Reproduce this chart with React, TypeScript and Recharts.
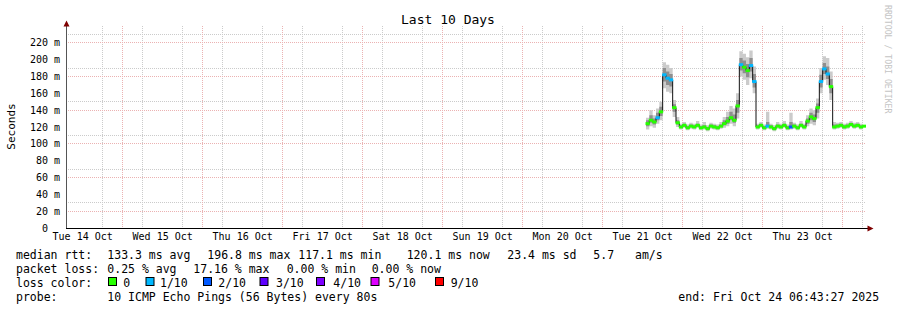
import React from 'react';
import { ComposedChart, Area, Line, XAxis, YAxis, CartesianGrid } from 'recharts';

// hours counted from Tue 14 Oct 00:00
const hours = [
  181, 182, 183, 184, 185, 186, 187, 188, 189, 190,
  191, 192, 193, 194, 195, 196, 197, 198, 199, 200,
  201, 202, 203, 204, 205, 206, 207, 208, 209, 210,
  211, 212, 213, 214, 215, 216, 217, 218, 219, 220,
  221, 222, 223, 224, 225, 226, 227, 228, 229, 230,
  231, 232, 233, 234, 235, 236, 237, 238, 239, 240,
  241, 242, 243, 244, 245, 246,
];

// median rtt in ms
const median = [
  124, 128, 126, 131, 138, 182, 178, 176, 143, 125,
  120, 122, 119, 121, 120, 122, 119, 120, 118, 121,
  120, 119, 121, 124, 127, 131, 128, 145, 194, 191,
  187, 193, 174, 120, 122, 119, 121, 120, 118, 121,
  120, 122, 119, 120, 121, 119, 122, 120, 127, 132,
  130, 143, 174, 189, 183, 168, 120, 121, 122, 120,
  121, 123, 121, 122, 120, 121,
];

// lost pings out of 10
const loss = [
  0, 0, 0, 1, 0, 1, 1, 1, 0, 0,
  0, 0, 0, 0, 0, 0, 0, 0, 0, 0,
  0, 0, 0, 0, 0, 0, 0, 0, 1, 0,
  0, 1, 1, 0, 0, 0, 1, 0, 0, 0,
  0, 0, 0, 2, 0, 0, 0, 0, 0, 0,
  0, 0, 1, 1, 1, 0, 0, 0, 0, 0,
  0, 0, 0, 0, 0, 0,
];

// smoke: min / max of the pings
const smokeMin = [
  117, 121, 119, 124, 128, 166, 162, 160, 132, 120,
  117, 119, 116, 118, 117, 119, 116, 117, 115, 118,
  117, 116, 118, 119, 121, 124, 121, 130, 180, 176,
  170, 178, 160, 117, 119, 116, 118, 117, 115, 118,
  117, 119, 116, 117, 118, 116, 119, 117, 121, 124,
  122, 130, 160, 176, 170, 152, 117, 118, 119, 117,
  118, 120, 118, 119, 117, 118,
];
const smokeMax = [
  131, 140, 134, 142, 150, 197, 194, 190, 152, 132,
  124, 126, 123, 125, 124, 127, 123, 126, 122, 125,
  124, 123, 126, 132, 138, 145, 142, 160, 210, 207,
  203, 211, 192, 124, 126, 123, 138, 124, 122, 126,
  124, 127, 123, 137, 125, 123, 127, 124, 134, 142,
  140, 154, 190, 204, 202, 186, 126, 125, 126, 124,
  125, 127, 125, 126, 124, 125,
];
// inner smoke: middle pings
const innerLo = [
  121, 125, 123, 128, 133, 174, 170, 168, 138, 123,
  119, 121, 118, 120, 119, 121, 118, 119, 117, 120,
  119, 118, 120, 122, 124, 128, 125, 137, 187, 184,
  179, 186, 167, 119, 121, 118, 120, 119, 117, 120,
  119, 121, 118, 119, 120, 118, 121, 119, 124, 128,
  126, 137, 167, 183, 177, 160, 119, 120, 121, 119,
  120, 122, 120, 121, 119, 120,
];
const innerHi = [
  128, 134, 130, 137, 144, 190, 186, 183, 147, 128,
  122, 124, 121, 123, 122, 124, 121, 122, 120, 123,
  122, 121, 123, 128, 132, 138, 135, 152, 202, 199,
  195, 202, 183, 122, 124, 121, 126, 122, 120, 123,
  122, 124, 121, 126, 123, 121, 124, 122, 130, 137,
  135, 148, 182, 196, 192, 177, 123, 123, 124, 122,
  123, 125, 123, 124, 122, 123,
];

const dayTicks = [12, 36, 60, 84, 108, 132, 156, 180, 204, 228];
const dayLabels = [
  'Tue 14 Oct', 'Wed 15 Oct', 'Thu 16 Oct', 'Fri 17 Oct', 'Sat 18 Oct',
  'Sun 19 Oct', 'Mon 20 Oct', 'Tue 21 Oct', 'Wed 22 Oct', 'Thu 23 Oct',
];
const yTicks = [0, 20, 40, 60, 80, 100, 120, 140, 160, 180, 200, 220];

const LOSS_COLORS = ['#26ff00', '#00b8ff', '#0059ff', '#5e00ff', '#7e00ff', '#dd00ff', '#ff0000'];
const legendLoss = [
  { label: '0', color: '#26ff00', box: 108.5, text: 123.3 },
  { label: '1/10', color: '#00b8ff', box: 146, text: 160 },
  { label: '2/10', color: '#0059ff', box: 203.5, text: 218.3 },
  { label: '3/10', color: '#5e00ff', box: 260, text: 276 },
  { label: '4/10', color: '#7e00ff', box: 316.5, text: 333.3 },
  { label: '5/10', color: '#dd00ff', box: 371, text: 388.3 },
  { label: '9/10', color: '#ff0000', box: 435.5, text: 450.7 },
];

const data = hours.map((h, i) => ({
  h,
  median: median[i],
  loss: loss[i],
  outer: [smokeMin[i], smokeMax[i]],
  inner: [innerLo[i], innerHi[i]],
}));

const minorX: number[] = [];
for (let h = 12; h < 247; h += 6) if (h % 24 !== 0) minorX.push(h);
const majorX: number[] = [];
for (let h = 24; h < 247; h += 24) majorX.push(h);
const minorY = [10, 30, 50, 70, 90, 110, 130, 150, 170, 190, 210, 230];
const majorY = [20, 40, 60, 80, 100, 120, 140, 160, 180, 200, 220];

const STEP_W = 800 / 240;
const MONO = '"DejaVu Sans Mono", monospace';
const tickStyle = { fontFamily: MONO, fontSize: 10, fill: '#000' };

const LossDot = (props: any) => {
  const { cx, cy, payload, index } = props;
  if (cx == null || cy == null) return <g key={`d${index}`} />;
  return (
    <rect
      key={`d${index}`}
      x={cx - 0.5}
      y={cy - 1.5}
      width={STEP_W + 1}
      height={3}
      fill={LOSS_COLORS[payload.loss]}
    />
  );
};

export default function App() {
  return (
    <div style={{ position: 'absolute', left: 0, top: 0, width: 897, height: 310, background: '#fff' }}>
      <style>{`
        .recharts-cartesian-grid line { shape-rendering: crispEdges; }
        .recharts-cartesian-axis-line { shape-rendering: crispEdges; }
      `}</style>
      <ComposedChart
        width={897}
        height={310}
        data={data}
        margin={{ top: 26, right: 31, bottom: 62, left: 0 }}
      >
        <CartesianGrid
          horizontalValues={minorY}
          verticalValues={minorX}
          stroke="#cbcbcb"
          strokeDasharray="1 1"
        />
        <CartesianGrid
          horizontalValues={majorY}
          verticalValues={majorX}
          stroke="#ebb2b2"
          strokeDasharray="1 1"
        />
        <XAxis
          dataKey="h"
          type="number"
          domain={[7, 247]}
          ticks={dayTicks}
          tickFormatter={(v: number) => dayLabels[dayTicks.indexOf(v)] ?? ''}
          axisLine={{ stroke: '#000' }}
          tickLine={false}
          tickSize={2}
          tickMargin={3}
          tick={tickStyle}
          height={20}
          allowDataOverflow
        />
        <YAxis
          type="number"
          domain={[0, 240]}
          ticks={yTicks}
          tickFormatter={(v: number) => (v === 0 ? '0\u00a0\u00a0' : `${v} m`)}
          axisLine={{ stroke: '#555' }}
          tickLine={false}
          tickSize={3}
          tickMargin={3}
          tick={tickStyle}
          width={66}
          allowDataOverflow
        />
        <Area
          dataKey="outer"
          type="stepAfter"
          stroke="none"
          fill="#cbcbcb"
          fillOpacity={1}
          isAnimationActive={false}
        />
        <Area
          dataKey="inner"
          type="stepAfter"
          stroke="none"
          fill="#8f8f8f"
          fillOpacity={1}
          isAnimationActive={false}
        />
        <Line
          dataKey="median"
          type="stepAfter"
          stroke="#111"
          strokeWidth={1}
          dot={LossDot}
          activeDot={false}
          isAnimationActive={false}
        />
      </ComposedChart>

      <svg
        width={897}
        height={310}
        style={{ position: 'absolute', left: 0, top: 0, pointerEvents: 'none' }}
        fontFamily={MONO}
      >
        <text x={448} y={24} textAnchor="middle" fontSize={13} fill="#000">Last 10 Days</text>
        <text transform="translate(14.5,126.5) rotate(-90)" textAnchor="middle" fontSize={11} fill="#000">Seconds</text>
        <text transform="translate(885,5) rotate(90)" fontSize={8.2} fill="#c4c4c4">RRDTOOL / TOBI OETIKER</text>

        <polygon points="63.5,26.5 69.5,26.5 66.5,20.5" fill="#7f0000" />
        <line x1={865} y1={228.5} x2={869} y2={228.5} stroke="#000" />
        <polygon points="867.5,225.5 867.5,231.5 873.5,228.5" fill="#7f0000" />

        <g fontSize={11.5} fill="#000" style={{ whiteSpace: 'pre' }}>
          <text x={16} y={258.5}>median rtt:</text>
          <text x={107.3} y={258.5}>133.3 ms avg</text>
          <text x={207.3} y={258.5}>196.8 ms max</text>
          <text x={298.3} y={258.5}>117.1 ms min</text>
          <text x={406.7} y={258.5}>120.1 ms now</text>
          <text x={507.3} y={258.5}>23.4 ms sd</text>
          <text x={593.3} y={258.5}>5.7</text>
          <text x={635} y={258.5}>am/s</text>

          <text x={16} y={272.5}>packet loss:</text>
          <text x={107.3} y={272.5}>0.25 % avg</text>
          <text x={193.3} y={272.5}>17.16 % max</text>
          <text x={286.7} y={272.5}>0.00 % min</text>
          <text x={371.7} y={272.5}>0.00 % now</text>

          <text x={16} y={286.5}>loss color:</text>
          {legendLoss.map((l) => (
            <g key={l.label}>
              <rect x={l.box} y={277.5} width={8} height={8} fill={l.color} stroke="#000" strokeWidth={1} />
              <text x={l.text} y={286.5}>{l.label}</text>
            </g>
          ))}

          <text x={16} y={300.5}>probe:</text>
          <text x={107.3} y={300.5}>10 ICMP Echo Pings (56 Bytes) every 80s</text>
          <text x={678.3} y={300.5}>end: Fri Oct 24 06:43:27 2025</text>
        </g>
      </svg>
    </div>
  );
}
